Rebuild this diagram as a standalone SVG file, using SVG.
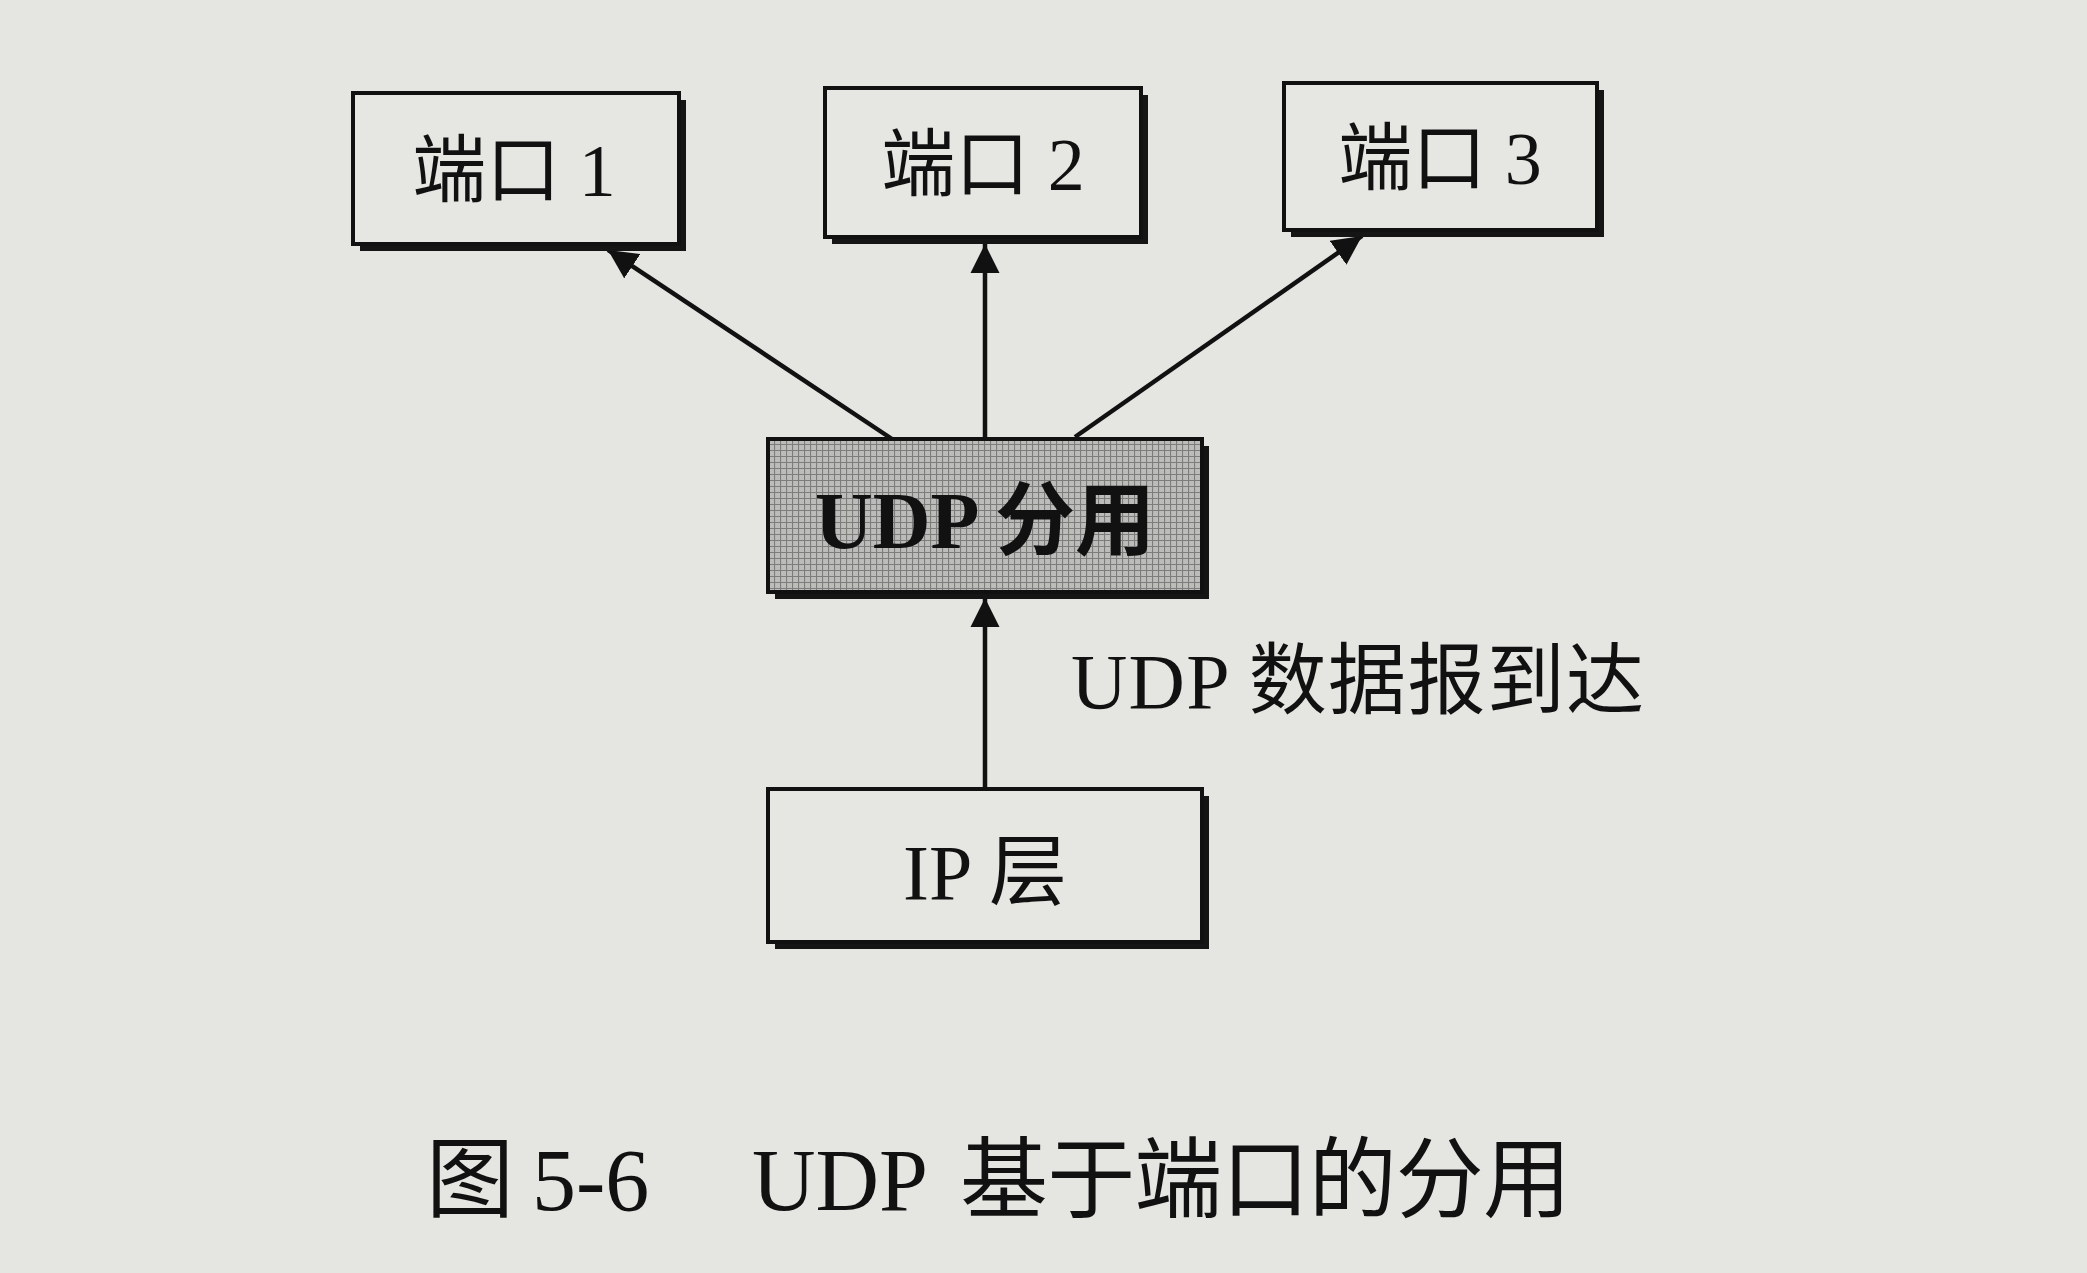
<svg xmlns="http://www.w3.org/2000/svg" width="2087" height="1273" viewBox="0 0 2087 1273">
<defs>
<style>
.box{fill:#e6e6e3;stroke:#111;stroke-width:4}
.shadow{fill:#151515}
.lbl{font-family:"Liberation Serif","Noto Sans CJK SC",serif;fill:#111;text-anchor:middle}
.conn{stroke:#111;stroke-width:4.5;fill:none}
.txt{font-family:"Liberation Serif","Noto Sans CJK SC",serif;fill:#111}
</style>
<pattern id="hatch" width="6" height="6" patternUnits="userSpaceOnUse">
<rect width="6" height="6" fill="#bcbcba"/>
<path d="M0 0.5H6M0.5 0V6" stroke="#7d7d7b" stroke-width="1.2"/>
</pattern>
<marker id="arr" viewBox="0 0 10 10" refX="10" refY="5" markerWidth="6.5" markerHeight="6.5" markerUnits="strokeWidth" orient="auto">
<path d="M0 0L10 5L0 10Z" fill="#111"/>
</marker>
</defs>
<rect width="2087" height="1273" fill="#e5e5e2"/>
<g id="connectors">
<line class="conn" x1="892" y1="439" x2="608" y2="250" marker-end="url(#arr)"/>
<line class="conn" x1="985" y1="437" x2="985" y2="244" marker-end="url(#arr)"/>
<line class="conn" x1="1075" y1="437" x2="1362" y2="236" marker-end="url(#arr)"/>
<line class="conn" x1="985" y1="789" x2="985" y2="598" marker-end="url(#arr)"/>
</g>
<g id="port1">
<rect class="shadow" x="360" y="100" width="326" height="151"/>
<rect class="box" x="353" y="93" width="326" height="151"/>
<text class="lbl" x="514" y="196" font-size="74">端口 1</text>
</g>
<g id="port2">
<rect class="shadow" x="832" y="95" width="316" height="149"/>
<rect class="box" x="825" y="88" width="316" height="149"/>
<text class="lbl" x="983" y="190" font-size="74">端口 2</text>
</g>
<g id="port3">
<rect class="shadow" x="1291" y="90" width="313" height="147"/>
<rect class="box" x="1284" y="83" width="313" height="147"/>
<text class="lbl" x="1440" y="184" font-size="74">端口 3</text>
</g>
<g id="udp-demux">
<rect class="shadow" x="775" y="446" width="434" height="153"/>
<rect x="768" y="439" width="434" height="153" fill="url(#hatch)" stroke="#111" stroke-width="4"/>
<text class="lbl" x="985" y="548" font-size="80" font-weight="bold">UDP 分用</text>
</g>
<g id="ip-layer">
<rect class="shadow" x="775" y="796" width="434" height="153"/>
<rect class="box" x="768" y="789" width="434" height="153"/>
<text class="lbl" x="985" y="899" font-size="78">IP 层</text>
</g>
<text class="txt" x="1071" y="708" font-size="78" textLength="573" lengthAdjust="spacing">UDP 数据报到达</text>
<g class="txt" font-size="88">
<text x="426" y="1210">图</text>
<text x="532" y="1210">5-6</text>
<text x="752" y="1210">UDP</text>
<text x="960" y="1210" textLength="611" lengthAdjust="spacing">基于端口的分用</text>
</g>
</svg>
